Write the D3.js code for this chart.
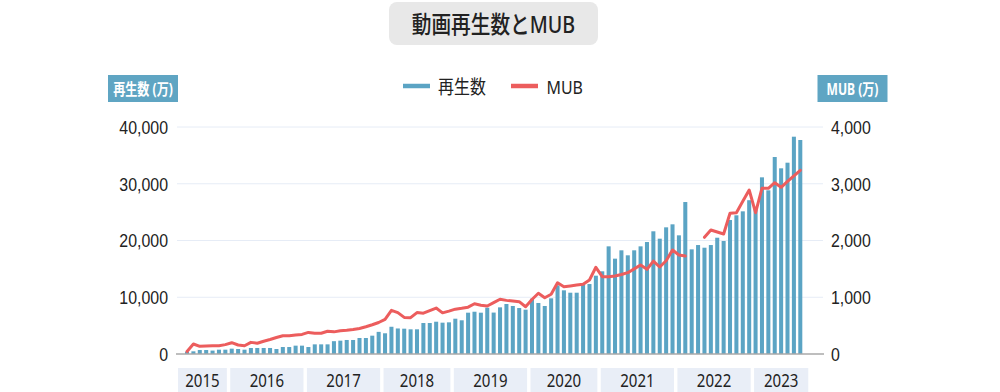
<!DOCTYPE html>
<html><head><meta charset="utf-8">
<script src="https://cdn.jsdelivr.net/npm/d3@7"></script>
<style>
html,body{margin:0;padding:0;background:#fff;}
svg{display:block;font-family:"Noto Sans","Noto Sans CJK JP",sans-serif;}
</style></head><body>
<svg id="chart" width="1000" height="392"></svg>
<script>
// ---- data ----
const periods = [
 "2015-06","2015-07","2015-08","2015-09","2015-10","2015-11","2015-12",
 "2016-01","2016-02","2016-03","2016-04","2016-05","2016-06","2016-07","2016-08","2016-09","2016-10","2016-11","2016-12",
 "2017-01","2017-02","2017-03","2017-04","2017-05","2017-06","2017-07","2017-08","2017-09","2017-10","2017-11","2017-12",
 "2018-01","2018-02","2018-03","2018-04","2018-05","2018-06","2018-07","2018-08","2018-09","2018-10","2018-11",
 "2019-01","2019-02","2019-03","2019-04","2019-05","2019-06","2019-07","2019-08","2019-09","2019-10","2019-11","2019-12",
 "2020-01","2020-02","2020-03","2020-04","2020-05","2020-06","2020-07","2020-08","2020-09","2020-10","2020-11",
 "2021-01","2021-02","2021-03","2021-04","2021-05","2021-06","2021-07","2021-08","2021-09","2021-10","2021-11","2021-12",
 "2022-01","2022-02","2022-03","2022-04","2022-05","2022-06","2022-07","2022-08","2022-09","2022-10","2022-11","2022-12",
 "2023-01","2023-02","2023-03","2023-04","2023-05","2023-06","2023-07","2023-08"
];
// 再生数 (万)
const plays = [
 400,470,700,700,600,760,760,
 940,880,760,1060,1060,1060,1060,880,1230,1230,1470,1470,
 1230,1700,1700,1700,2260,2350,2470,2470,2820,2820,3230,3900,
 3650,4800,4500,4460,4350,4350,5460,5460,5690,5520,5580,
 6220,5940,7280,7450,7280,8160,7300,8220,8810,8460,8100,7810,
 9750,8990,8460,9810,12100,11220,10800,10800,12460,12330,13800,
 14570,18970,16800,18270,17390,18270,18970,19730,21620,20320,22320,22850,
 20910,26780,18440,19200,18730,19200,20490,19910,23610,24440,25140,27100,
 25900,31130,28840,34710,32720,33710,38290,37710
];
// MUB (万)
const mub = [
 45,176,135,141,146,146,165,
 199,159,146,205,189,225,255,290,322,322,335,345,
 380,365,365,400,390,410,418,430,450,480,515,555,
 610,770,730,645,640,730,720,765,810,725,755,
 790,805,825,885,860,845,905,965,945,934,922,833,
 960,1070,992,1052,1256,1186,1200,1215,1228,1304,1528,
 1362,1362,1374,1400,1433,1500,1568,1492,1638,1533,1644,1832,
 1744,1727,null,null,2056,2185,2150,2115,2479,2490,2690,2890,
 2490,2919,2919,3018,2937,3040,3140,3237
];
const years = ["2015","2016","2017","2018","2019","2020","2021","2022","2023"];
const leftTicks = [0,10000,20000,30000,40000];
const rightTicks = [0,1000,2000,3000,4000];
const seriesNames = ["再生数","MUB"];
const titleText = "動画再生数とMUB";
const leftTitle = "再生数 (万)";
const rightTitle = "MUB (万)";

// ---- style ----
const barColor = "#5ba4c4";
const lineColor = "#ec5d5d";
const textColor = "#222";
const SXN = 0.86;

const svg = d3.select("#chart");
const plotL = 177, plotR = 823, y0 = 354, yTop = 127;

const x = d3.scaleBand().domain(periods).range([185, 802.3]).paddingInner(0.37).paddingOuter(0);
const yL = d3.scaleLinear().domain([0, 40000]).range([y0, yTop]);
const yR = d3.scaleLinear().domain([0, 4000]).range([y0, yTop]);
const bw = x.bandwidth(), step = x.step();

// title
svg.append("rect").attr("x",389).attr("y",2).attr("width",209).attr("height",43).attr("rx",8).attr("fill","#e8e8e8");
svg.append("text").attr("transform","translate(493.5,24) scale(0.82,1)")
  .attr("text-anchor","middle").attr("dominant-baseline","central")
  .attr("font-size",24).attr("font-weight",500).attr("fill",textColor).text(titleText);

// gridlines
svg.append("g").selectAll("line").data(leftTicks.filter(d=>d>0)).join("line")
  .attr("x1",plotL).attr("x2",plotR).attr("y1",d=>yL(d)).attr("y2",d=>yL(d))
  .attr("stroke","#e6ecf6").attr("stroke-width",1);

// bars
svg.append("g").selectAll("rect").data(periods).join("rect")
  .attr("x",d=>x(d)).attr("width",bw)
  .attr("y",(d,i)=>yL(plays[i])).attr("height",(d,i)=>y0-yL(plays[i]))
  .attr("fill",barColor);

// zero line
svg.append("line").attr("x1",plotL-1).attr("x2",plotR+1).attr("y1",y0).attr("y2",y0)
  .attr("stroke","#a8a8a8").attr("stroke-width",1.6);

// MUB line
const line = d3.line().defined(d=>d.v!=null).x(d=>x(d.p)+bw/2).y(d=>yR(d.v));
svg.append("path").datum(periods.map((p,i)=>({p, v:mub[i]})))
  .attr("d",line).attr("fill","none").attr("stroke",lineColor)
  .attr("stroke-width",3).attr("stroke-linejoin","round").attr("stroke-linecap","round");

// axes
const gL = svg.append("g").attr("transform",`translate(${plotL+1},0)`)
  .call(d3.axisLeft(yL).tickValues(leftTicks).tickFormat(d3.format(",")).tickSize(0).tickPadding(10));
const gR = svg.append("g").attr("transform",`translate(${plotR-1},0)`)
  .call(d3.axisRight(yR).tickValues(rightTicks).tickFormat(d3.format(",")).tickSize(0).tickPadding(10));
[gL,gR].forEach(g=>{
  g.select(".domain").remove();
  g.selectAll("text").attr("font-size",18.5).attr("fill",textColor)
   .attr("font-family",null).attr("dy",null).attr("dominant-baseline","central");
});
gL.selectAll("text").attr("x",null).attr("transform","translate(-10,0) scale(0.86,1)");
gR.selectAll("text").attr("x",null).attr("transform","translate(9,0) scale(0.86,1)");

// axis titles
function axisTitle(cx, label){
  svg.append("rect").attr("x",cx-35).attr("y",75).attr("width",70).attr("height",27).attr("fill","#5fa5c3");
  svg.append("text").attr("transform",`translate(${cx},88.5) scale(0.78,1)`)
    .attr("text-anchor","middle").attr("dominant-baseline","central")
    .attr("font-size",15.5).attr("font-weight","bold").attr("fill","#fff").text(label);
}
axisTitle(143, leftTitle);
axisTitle(852.5, rightTitle);

// legend
const leg = [{name:seriesNames[0], c:barColor, x0:403, tx:438},{name:seriesNames[1], c:lineColor, x0:511, tx:546.5}];
leg.forEach(l=>{
  svg.append("line").attr("x1",l.x0).attr("x2",l.x0+27).attr("y1",86).attr("y2",86)
    .attr("stroke",l.c).attr("stroke-width",4.5);
  svg.append("text").attr("transform",`translate(${l.tx},86) scale(${SXN - 0.02},1)`)
    .attr("dominant-baseline","central").attr("font-size",19).attr("fill",textColor).text(l.name);
});

// year bands
const yearBands = years.map((yr,k)=>{
  const ps = periods.filter(p=>p.startsWith(yr));
  let a = x(ps[0]) - (step-bw)/2, b = x(ps[ps.length-1]) + bw + (step-bw)/2;
  if (k===0) a = plotL + 1;
  if (k===years.length-1) b = x(ps[ps.length-1]) + bw + step*1.2;
  return {yr, a: a + (k===0?0:1.7), b: b - 1.7};
});
const gy = svg.append("g");
gy.selectAll("rect").data(yearBands).join("rect")
  .attr("x",d=>d.a).attr("width",d=>d.b-d.a).attr("y",368).attr("height",24).attr("fill","#e9eef7");
gy.selectAll("text").data(yearBands).join("text")
  .attr("transform",d=>`translate(${(d.a+d.b)/2},380.5) scale(${SXN},1)`)
  .attr("text-anchor","middle").attr("dominant-baseline","central")
  .attr("font-size",17.5).attr("fill",textColor).text(d=>d.yr);
</script>
</body></html>
